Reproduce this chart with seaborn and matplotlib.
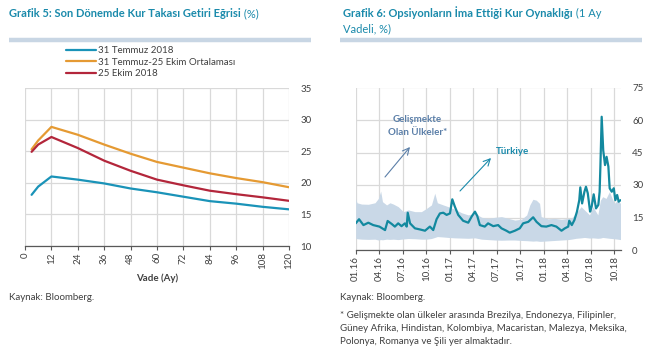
import matplotlib
matplotlib.use('Agg')
import matplotlib.pyplot as plt
import matplotlib.dates as mdates
import seaborn as sns
import pandas as pd

sns.set_theme(style='white')
plt.rcParams['font.family'] = ['Lato', 'DejaVu Sans']

# ---------------- Grafik 5 data ----------------
vade = [3, 6, 12, 24, 36, 48, 60, 72, 84, 96, 108, 120]
temmuz_31 = [18.1, 19.4, 21.0, 20.5, 19.9, 19.1, 18.5, 17.8, 17.1, 16.7, 16.2, 15.8]
ortalama = [25.3, 26.7, 28.85, 27.6, 26.05, 24.6, 23.3, 22.4, 21.5, 20.75, 20.1, 19.3]
ekim_25 = [24.9, 26.05, 27.25, 25.5, 23.5, 21.9, 20.5, 19.6, 18.75, 18.2, 17.7, 17.15]
seri_adlari = ['31 Temmuz 2018', '31 Temmuz-25 Ekim Ortalaması', '25 Ekim 2018']
seri_renk = ['#1a93b8', '#e59a33', '#b3263b']

# ---------------- Grafik 6 data ----------------
tr_tarih = ['2016-01-01', '2016-01-14', '2016-01-31', '2016-02-19', '2016-03-09', '2016-04-02',
            '2016-04-24', '2016-05-04', '2016-05-20', '2016-06-01', '2016-06-14', '2016-06-27',
            '2016-07-10', '2016-07-17', '2016-07-21', '2016-07-30', '2016-08-18', '2016-09-06',
            '2016-09-26', '2016-10-15', '2016-10-28', '2016-11-10', '2016-11-23', '2016-12-06',
            '2016-12-19', '2017-01-01', '2017-01-10', '2017-01-20', '2017-02-02', '2017-02-21',
            '2017-03-13', '2017-03-26', '2017-04-08', '2017-04-17', '2017-04-27', '2017-05-16',
            '2017-05-29', '2017-06-18', '2017-07-07', '2017-07-20', '2017-08-08', '2017-08-21',
            '2017-09-10', '2017-09-29', '2017-10-12', '2017-11-01', '2017-11-20', '2017-12-03',
            '2017-12-22', '2018-01-10', '2018-01-30', '2018-02-18', '2018-03-10', '2018-03-23',
            '2018-04-05', '2018-04-09', '2018-04-19', '2018-04-29', '2018-05-09', '2018-05-18',
            '2018-05-22', '2018-05-29', '2018-06-07', '2018-06-13', '2018-06-20', '2018-06-29',
            '2018-07-05', '2018-07-13', '2018-07-22', '2018-07-31', '2018-08-05', '2018-08-08',
            '2018-08-13', '2018-08-19', '2018-08-26', '2018-09-01', '2018-09-08', '2018-09-13',
            '2018-09-21', '2018-09-29', '2018-10-05', '2018-10-12', '2018-10-18', '2018-10-25']
tr_deger = [12.3, 14.2, 11.5, 12.6, 11.5, 10.8,
            9.2, 13.4, 12.0, 10.8, 12.3, 11.0,
            12.3, 10.8, 17.2, 12.3, 10.0, 9.5,
            8.9, 10.8, 9.2, 14.2, 16.9, 17.2,
            16.2, 16.9, 23.4, 20.0, 16.2, 13.5,
            12.6, 15.4, 17.7, 15.7, 11.5, 10.8,
            12.3, 11.0, 11.5, 10.0, 8.9, 8.0,
            8.9, 10.0, 12.3, 13.0, 15.1, 13.0,
            11.0, 10.8, 11.5, 10.8, 8.9, 10.0,
            10.8, 13.5, 11.5, 13.8, 17.7, 23.0,
            28.9, 21.5, 26.9, 29.2, 26.2, 17.7,
            20.0, 25.7, 19.2, 20.8, 26.9, 38.5,
            61.5, 46.0, 39.2, 43.0, 38.5, 28.5,
            26.9, 28.5, 23.0, 25.4, 22.3, 23.0]

gu_tarih = ['2016-01-01', '2016-01-06', '2016-01-24', '2016-02-19', '2016-03-16', '2016-03-29',
            '2016-04-07', '2016-04-14', '2016-04-30', '2016-05-13', '2016-05-26', '2016-06-14',
            '2016-07-04', '2016-07-23', '2016-08-18', '2016-09-12', '2016-10-02', '2016-10-21',
            '2016-11-03', '2016-11-13', '2016-12-06', '2016-12-25', '2017-01-20', '2017-02-15',
            '2017-03-13', '2017-04-08', '2017-05-04', '2017-05-29', '2017-06-25', '2017-07-20',
            '2017-08-16', '2017-09-10', '2017-10-06', '2017-10-26', '2017-11-07', '2017-11-19',
            '2017-12-02', '2017-12-15', '2017-12-21', '2018-01-16', '2018-02-11', '2018-03-10',
            '2018-04-05', '2018-04-17', '2018-05-06', '2018-05-25', '2018-06-07', '2018-06-27',
            '2018-07-10', '2018-07-29', '2018-08-08', '2018-08-17', '2018-08-30', '2018-09-12',
            '2018-10-01', '2018-10-14', '2018-10-25']
gu_ust = [23.8, 21.8, 21.2, 21.1, 21.8, 23.8,
          27.2, 22.3, 20.8, 21.8, 21.2, 20.0,
          17.7, 18.5, 17.7, 17.7, 19.2, 20.8,
          26.2, 21.8, 20.8, 20.0, 18.8, 17.2,
          16.2, 16.9, 15.1, 14.6, 15.1, 15.4,
          14.6, 13.8, 14.2, 16.2, 20.8, 23.4,
          23.0, 21.5, 15.4, 14.4, 14.6, 14.2,
          14.6, 14.6, 17.0, 20.0, 18.5, 16.2,
          20.0, 16.2, 23.0, 24.6, 23.8, 26.9,
          21.5, 23.0, 21.5]
gu_alt = [5.4, 5.2, 5.0, 4.9, 5.0, 4.6,
          4.8, 4.7, 5.0, 4.9, 5.0, 4.8,
          5.1, 5.3, 5.2, 5.0, 5.0, 5.3,
          5.8, 6.2, 6.0, 5.8, 5.6, 5.5,
          5.4, 5.6, 5.0, 4.8, 4.6, 4.5,
          4.6, 4.6, 4.4, 4.3, 4.2, 4.1,
          4.2, 4.0, 4.0, 4.2, 4.4, 4.6,
          4.8, 5.0, 5.4, 5.6, 5.8, 5.5,
          5.6, 5.4, 5.5, 5.8, 5.6, 5.4,
          5.2, 5.0, 4.8]

W, H = 671, 356
fig = plt.figure(figsize=(W / 100, H / 100), dpi=100)
fig.patch.set_facecolor('white')


def fx(x):
    return x / W


def fy(y):
    return 1 - y / H


TEAL = '#1a8aab'
TXT = '#404040'
GRID = '#d9d9d9'
FS = 7

# ---------------- Left chart ----------------
ax1 = fig.add_axes([fx(25), fy(246), fx(289) - fx(25), fy(88) - fy(246)])
df1 = pd.DataFrame({
    'Vade': vade * 3,
    'Getiri': temmuz_31 + ortalama + ekim_25,
    'Seri': [seri_adlari[0]] * len(vade) + [seri_adlari[1]] * len(vade) + [seri_adlari[2]] * len(vade),
})
sns.lineplot(data=df1, x='Vade', y='Getiri', hue='Seri', hue_order=seri_adlari,
             palette=seri_renk, linewidth=1.6, ax=ax1)
ax1.set_xlim(0, 120)
ax1.set_ylim(10, 35)
ax1.set_xticks(range(0, 121, 12))
ax1.set_yticks(range(10, 36, 5))
ax1.yaxis.tick_right()
ax1.grid(True, color=GRID, linewidth=0.9)
ax1.set_axisbelow(True)
for s in ['top', 'right', 'left']:
    ax1.spines[s].set_visible(False)
ax1.spines['bottom'].set_color('#595959')
ax1.spines['bottom'].set_linewidth(0.9)
ax1.tick_params(axis='x', which='both', bottom=True, length=3, width=0.8, color='#595959',
                labelsize=FS, labelcolor=TXT, labelrotation=90, pad=1.5)
ax1.tick_params(axis='y', length=0, labelsize=FS, labelcolor=TXT, pad=8)
ax1.set_ylabel('')
ax1.set_xlabel('Vade (Ay)', fontsize=FS, fontweight='bold', color=TXT, labelpad=3)
sns.move_legend(ax1, loc='upper left', bbox_to_anchor=(fx(66), fy(46)),
                bbox_transform=fig.transFigure, frameon=False, title=None,
                fontsize=FS, handlelength=3.1, handletextpad=0.15, labelspacing=0.28,
                borderaxespad=0, borderpad=0)
for t in ax1.get_legend().get_texts():
    t.set_color(TXT)

# ---------------- Right chart ----------------
ax2 = fig.add_axes([fx(355.7), fy(250), fx(621) - fx(355.7), fy(87.5) - fy(250)])
gu_dt = pd.to_datetime(gu_tarih)
ax2.fill_between(gu_dt, gu_alt, gu_ust, color='#c9d8e7', linewidth=0, zorder=2)
df2 = pd.DataFrame({'Tarih': pd.to_datetime(tr_tarih), 'Türkiye': tr_deger})
sns.lineplot(data=df2, x='Tarih', y='Türkiye', color='#13899f', linewidth=1.6, ax=ax2, zorder=3)
ax2.set_xlim(pd.Timestamp('2016-01-01'), pd.Timestamp('2018-10-27'))
ax2.set_ylim(0, 75)
ax2.set_yticks(range(0, 76, 15))
ax2.set_xticks(pd.date_range('2016-01-01', '2018-10-01', freq='QS'))
ax2.xaxis.set_major_formatter(mdates.DateFormatter('%m.%y'))
ax2.yaxis.tick_right()
ax2.grid(True, color=GRID, linewidth=0.9, zorder=0)
ax2.set_axisbelow(True)
for s in ['top', 'right', 'left']:
    ax2.spines[s].set_visible(False)
ax2.spines['bottom'].set_color('#595959')
ax2.spines['bottom'].set_linewidth(0.9)
ax2.tick_params(axis='x', which='both', bottom=True, length=3, width=0.8, color='#595959',
                labelsize=FS, labelcolor=TXT, labelrotation=90, pad=1.5)
ax2.tick_params(axis='y', length=0, labelsize=FS, labelcolor=TXT, pad=8)
ax2.set_xlabel('')
ax2.set_ylabel('')

SLATE = '#5b7fa8'
fig.text(fx(417), fy(119.5), 'Gelişmekte', ha='center', va='center', fontsize=FS,
         fontweight='bold', color=SLATE)
fig.text(fx(418), fy(132.5), 'Olan Ülkeler*', ha='center', va='center', fontsize=FS,
         fontweight='bold', color=SLATE)
fig.text(fx(512), fy(152), 'Türkiye', ha='center', va='center', fontsize=FS,
         fontweight='bold', color='#1a8aab')
ax2.annotate('', xy=(410, H - 147), xytext=(385, H - 177), xycoords='figure pixels',
             textcoords='figure pixels',
             arrowprops=dict(arrowstyle='->', color=SLATE, lw=0.8, shrinkA=0, shrinkB=0))
ax2.annotate('', xy=(491, H - 158), xytext=(460, H - 191), xycoords='figure pixels',
             textcoords='figure pixels',
             arrowprops=dict(arrowstyle='->', color='#1a8aab', lw=0.8, shrinkA=0, shrinkB=0))

# ---------------- Titles, bars, notes ----------------
TFS = 8
t1 = fig.text(fx(9), fy(19), 'Grafik 5: Son Dönemde Kur Takası Getiri Eğrisi', fontsize=TFS,
              fontweight='bold', color=TEAL, ha='left', va='bottom')
fig.text(0, 0, ' (%)', fontsize=TFS, color=TEAL, ha='left', va='bottom',
         transform=matplotlib.transforms.offset_copy(t1.get_transform(), fig=fig), alpha=0)
ax1.annotate(' (%)', xy=(1, 0), xycoords=t1, fontsize=TFS, color=TEAL, ha='left', va='bottom',
             annotation_clip=False)
t2 = fig.text(fx(343), fy(19), 'Grafik 6: Opsiyonların İma Ettiği Kur Oynaklığı', fontsize=TFS,
              fontweight='bold', color=TEAL, ha='left', va='bottom')
ax2.annotate(' (1 Ay', xy=(1, 0), xycoords=t2, fontsize=TFS, color=TEAL, ha='left', va='bottom',
             annotation_clip=False)
fig.text(fx(343), fy(34), 'Vadeli, %)', fontsize=TFS, color=TEAL, ha='left', va='bottom')

BAR = '#c8d6e4'
fig.add_artist(plt.Line2D([fx(9), fx(311)], [fy(40), fy(40)], color=BAR, lw=3.2,
                          transform=fig.transFigure, solid_capstyle='butt'))
fig.add_artist(plt.Line2D([fx(340), fx(642)], [fy(40), fy(40)], color=BAR, lw=3.2,
                          transform=fig.transFigure, solid_capstyle='butt'))

fig.text(fx(9), fy(297), 'Kaynak: Bloomberg.', fontsize=FS, color=TXT, ha='left', va='center')
fig.text(fx(340), fy(298), 'Kaynak: Bloomberg.', fontsize=FS, color=TXT, ha='left', va='center')
fig.text(fx(340), fy(315), '* Gelişmekte olan ülkeler arasında Brezilya, Endonezya, Filipinler,',
         fontsize=FS, color=TXT, ha='left', va='center')
fig.text(fx(340), fy(328.5), 'Güney Afrika, Hindistan, Kolombiya, Macaristan, Malezya, Meksika,',
         fontsize=FS, color=TXT, ha='left', va='center')
fig.text(fx(340), fy(342), 'Polonya, Romanya ve Şili yer almaktadır.',
         fontsize=FS, color=TXT, ha='left', va='center')

fig.savefig('out.png', dpi=100, facecolor='white')
